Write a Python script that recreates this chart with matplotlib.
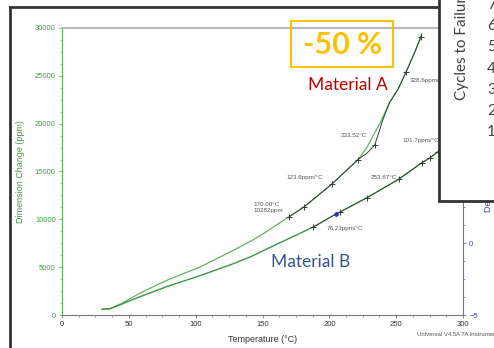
import matplotlib.pyplot as plt
from matplotlib.patches import Rectangle
from matplotlib.lines import Line2D
from matplotlib.ticker import MultipleLocator

#%% Data

# Material A (upper trace)
temp_a = [30, 36, 45, 50, 60, 78, 103, 128, 141, 149, 170, 181, 202, 221.5, 228, 233, 238, 245, 251.4, 257.4, 264, 269]
dim_a = [600, 650, 1250, 1650, 2400, 3600, 5000, 6750, 7700, 8350, 10280, 11290, 13700, 16250, 17500, 18800, 20070, 22200, 23600, 25400, 27500, 29400]

# Material A, second (dark) trace around the 233.52 C step
temp_a2 = [170, 181, 202, 221.5, 228, 234, 240, 245, 251.4, 257.4, 264, 268.6]
dim_a2 = [10280, 11290, 13700, 16250, 16900, 17770, 20380, 22200, 23600, 25400, 27500, 29060]

# Material B (lower trace)
temp_b = [30, 36, 45, 50, 60, 78, 103, 126, 141, 160, 188, 205, 208, 228, 252, 269, 275, 281, 290]
dim_b = [600, 660, 1150, 1450, 2000, 2950, 4100, 5250, 6080, 7350, 9200, 10560, 10770, 12250, 14200, 15900, 16400, 17050, 17900]

# analysis marks
mark_a_t = [170, 181, 202, 221.5, 234, 257.4, 268.6]
mark_a_d = [10280, 11290, 13700, 16250, 17770, 25400, 29060]
mark_b_t = [188, 208, 228, 252, 269, 275, 281]
mark_b_d = [9200, 10770, 12250, 14200, 15900, 16400, 17050]

x_ticks = [0, 50, 100, 150, 200, 250, 300]
y_ticks = [0, 5000, 10000, 15000, 20000, 25000, 30000]
deriv_ticks = [-5, 0, 5, 10, 15]
cycles = ['7', '6', '5', '4', '3', '2', '1']

#%% Figure in pixel coordinates

W, H = 494, 348
fig = plt.figure(figsize=(W/100, H/100), dpi=100)

def fx(px):
    return px/W

def fy(py):
    return 1 - py/H

green = '#5fb55f'
dgreen = '#3c9444'
tgreen = '#3f9f3f'
blue = '#6a6ae0'
dark = '#3a3a3a'
tafont = 'Liberation Sans'

ax = fig.add_axes([fx(62), fy(315), (463-62)/W, (315-28)/H])
ax.plot(temp_a, dim_a, c=green, lw=0.9)
ax.plot(temp_a2, dim_a2, c=dark, lw=0.7)
ax.plot(temp_b, dim_b, c=dgreen, lw=1.0)
ax.plot(temp_b[10:], dim_b[10:], c=dark, lw=0.5)
ax.plot(mark_a_t, mark_a_d, '+', c=dark, ms=4, mew=0.7)
ax.plot(mark_b_t, mark_b_d, '+', c=dark, ms=4, mew=0.7)
ax.plot([205], [10560], 'D', c='#3030c0', ms=2)

ax.set_xlim(0, 300)
ax.set_ylim(0, 30000)
ax.set_xticks(x_ticks)
ax.set_yticks(y_ticks)
ax.xaxis.set_minor_locator(MultipleLocator(12.5))
ax.yaxis.set_minor_locator(MultipleLocator(1250))
ax.tick_params(axis='x', which='both', colors='#777777', labelcolor='#333333', labelsize=5.5, pad=2)
ax.tick_params(axis='y', which='both', colors=green, labelcolor=tgreen, labelsize=5.5, pad=2)
ax.tick_params(which='major', length=2.5, width=0.6)
ax.tick_params(which='minor', length=1.5, width=0.5)
for lab in ax.get_xticklabels() + ax.get_yticklabels():
    lab.set_family(tafont)
ax.spines['left'].set_color(green)
ax.spines['bottom'].set_color('#777777')
ax.spines['top'].set_color('#b8b8b8')
ax.spines['top'].set_linewidth(1.5)
ax.spines['right'].set_visible(False)
ax.set_xlabel('Temperature (°C)', fontsize=6.5, family=tafont, color='#333333', labelpad=5)
ax.set_ylabel('Dimension Change (ppm)', fontsize=6.5, family=tafont, color=tgreen, labelpad=7)

ax2 = ax.twinx()
ax2.set_ylim(-5, 15)
ax2.set_yticks(deriv_ticks)
ax2.yaxis.set_minor_locator(MultipleLocator(1.25))
ax2.tick_params(axis='y', which='both', colors=blue, labelcolor='#4040d0', labelsize=5.5, pad=2)
ax2.tick_params(which='major', length=2.5, width=0.6)
ax2.tick_params(which='minor', length=1.5, width=0.5)
for lab in ax2.get_yticklabels():
    lab.set_family(tafont)
for s in ['left', 'top', 'bottom']:
    ax2.spines[s].set_visible(False)
ax2.spines['right'].set_color(blue)
fig.text(fx(488), fy(212), 'Deriv. Dimension Change (ppm/°C)', fontsize=6.5, family=tafont, color='#4040d0',
         rotation=90, ha='center', va='bottom')

# TA analysis labels
ann = dict(fontsize=4.5, family=tafont, color='#555555', ha='left', va='center')
ax.text(143, 11240, '170.00°C\n10282ppm', linespacing=1.1, **ann)
ax.text(167.6, 14425, '123.6ppm/°C', **ann)
ax.text(208.7, 18815, '233.52°C', **ann)
ax.text(260.3, 24460, '328.6ppm/°C', **ann)
ax.text(254.4, 18190, '101.7ppm/°C', **ann)
ax.text(231.2, 14425, '253.67°C', **ann)
ax.text(198.2, 9094, '76.21ppm/°C', **ann)

fig.text(fx(417), fy(335), 'Universal V4.5A TA Instruments', fontsize=4.3, family=tafont, color='#555555', va='center')

# outer frame of the screenshot
fig.add_artist(Line2D([fx(10), fx(10)], [fy(7), fy(360)], color='#333333', lw=2))
fig.add_artist(Line2D([fx(10), fx(440)], [fy(7), fy(7)], color='#333333', lw=2))

# overlays
fig.add_artist(Rectangle((fx(291), fy(67)), (393-291)/W, (67-21)/H, fill=False, ec='#ffc000', lw=1.5))
fig.text(fx(342), fy(45), '-50 %', fontsize=22, weight='bold', family='Lato', color='#ffc000', ha='center', va='center')
fig.text(fx(348), fy(85), 'Material A', fontsize=12.5, family='Lato', color='#c00000', ha='center', va='center')
fig.text(fx(311), fy(262), 'Material B', fontsize=12.5, family='Lato', color='#2f5597', ha='center', va='center')

# cut-off cycles-to-failure chart on the right
fig.add_artist(Rectangle((fx(439), fy(201)), 80/W, 220/H, fc='white', ec='#333333', lw=2, zorder=5))
fig.text(fx(462), fy(100), 'Cycles to Failure', fontsize=11, family='Lato', color='#404040', rotation=90,
         ha='center', va='bottom', zorder=6)
for i, c in enumerate(cycles):
    fig.text(fx(487), fy(5 + 21.2*i), c, fontsize=11, family='Lato', color='#404040', va='center', zorder=6)

fig.savefig('out.png', dpi=100)
